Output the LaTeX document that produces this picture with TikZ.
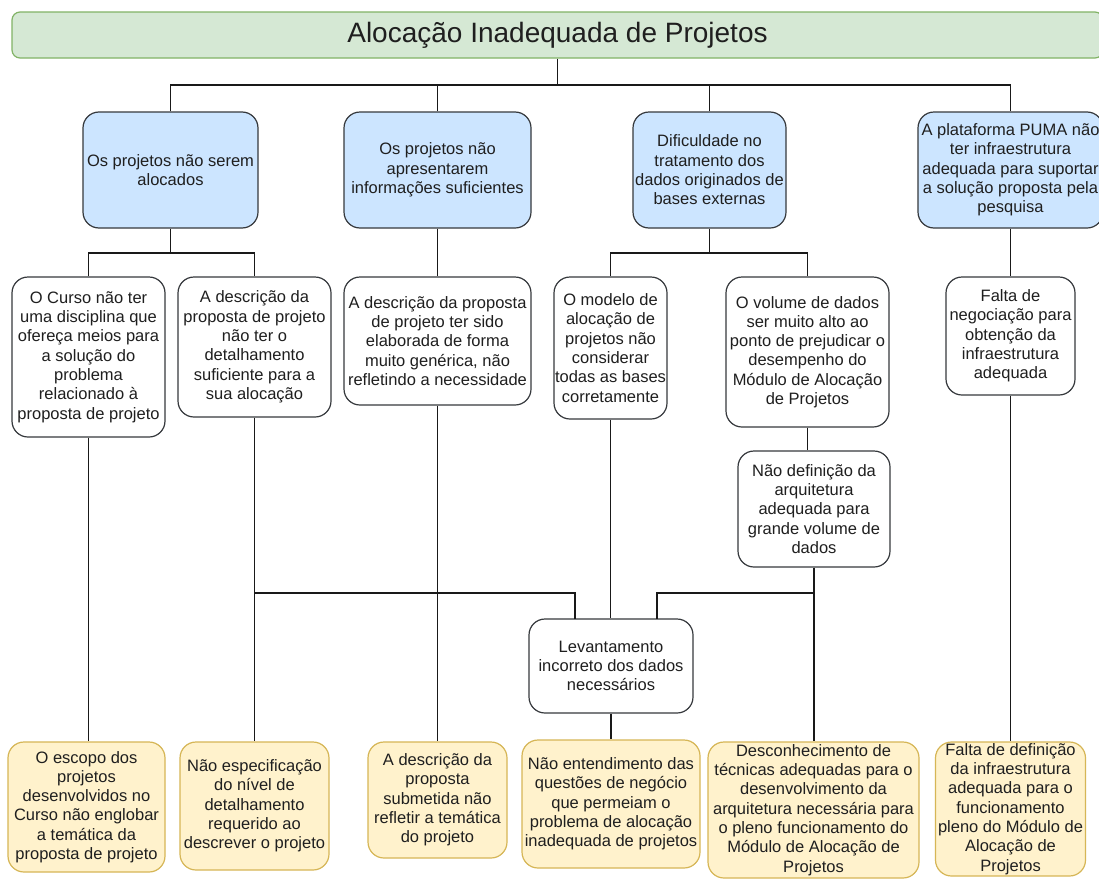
\documentclass[tikz,border=0pt]{standalone}
\usepackage{fontspec}
\setmainfont{Liberation Sans}
\definecolor{titlefill}{HTML}{D5E8D4}
\definecolor{titledraw}{HTML}{82B366}
\definecolor{bluefill}{HTML}{CCE5FF}
\definecolor{yelfill}{HTML}{FFF2CC}
\definecolor{yeldraw}{HTML}{D6B656}
\definecolor{boxdraw}{HTML}{36393D}
\definecolor{txt}{HTML}{1F1F1F}
\begin{document}
\begin{tikzpicture}[x=1pt,y=-1pt,
  base/.style={rounded corners=16pt, line width=1.2pt, align=center, inner sep=0pt,
    text=txt, font=\fontsize{16.5}{19.3}\selectfont},
  titlebox/.style={base, rounded corners=8pt, fill=titlefill, draw=titledraw,
    font=\fontsize{28}{32}\selectfont},
  causebox/.style={base, fill=bluefill, draw=boxdraw},
  whitebox/.style={base, fill=white, draw=boxdraw},
  rootbox/.style={base, fill=yelfill, draw=yeldraw},
  link/.style={line width=1.2pt, draw=black!90}]
\useasboundingbox (0,0) rectangle (1099,878);
\fill[white] (0,0) rectangle (1099,878);

% title
\node[titlebox, minimum width=1091pt, minimum height=46pt] (T) at (557.5,35) {Alocação Inadequada de Projetos};

% level 1
\node[causebox, minimum width=175pt, minimum height=116pt] (B1) at (170.5,170) {Os projetos não serem\\alocados};
\node[causebox, minimum width=187pt, minimum height=116pt] (B2) at (437.5,170) {Os projetos não\\apresentarem\\informações suficientes};
\node[causebox, minimum width=153pt, minimum height=116pt] (B3) at (709.5,170) {Dificuldade no\\tratamento dos\\dados originados de\\bases externas};
\node[causebox, minimum width=185pt, minimum height=116pt] (B4) at (1010.5,170) {A plataforma PUMA não\\ter infraestrutura\\adequada para suportar\\a solução proposta pela\\pesquisa};

% level 2
\node[whitebox, minimum width=153pt, minimum height=160pt] (W1) at (88.5,357) {O Curso não ter\\uma disciplina que\\ofereça meios para\\a solução do\\problema\\relacionado à\\proposta de projeto};
\node[whitebox, minimum width=153pt, minimum height=140pt] (W2) at (254.5,347) {A descrição da\\proposta de projeto\\não ter o\\detalhamento\\suficiente para a\\sua alocação};
\node[whitebox, minimum width=187pt, minimum height=128pt] (W3) at (437.5,341) {A descrição da proposta\\de projeto ter sido\\elaborada de forma\\muito genérica, não\\refletindo a necessidade};
\node[whitebox, minimum width=113pt, minimum height=142pt] (W4) at (610.5,348) {O modelo de\\alocação de\\projetos não\\considerar\\todas as bases\\corretamente};
\node[whitebox, minimum width=163pt, minimum height=150pt] (W5) at (807.5,352) {O volume de dados\\ser muito alto ao\\ponto de prejudicar o\\desempenho do\\Módulo de Alocação\\de Projetos};
\node[whitebox, minimum width=129pt, minimum height=118pt] (W6) at (1010.5,336) {Falta de\\negociação para\\obtenção da\\infraestrutura\\adequada};

% level 3
\node[whitebox, minimum width=152pt, minimum height=116pt] (W7) at (814,509) {Não definição da\\arquitetura\\adequada para\\grande volume de\\dados};
\node[whitebox, minimum width=164pt, minimum height=94pt] (L) at (611,666) {Levantamento\\incorreto dos dados\\necessários};

% root causes
\node[rootbox, minimum width=157pt, minimum height=130pt] (Y1) at (86.5,807) {O escopo dos\\projetos\\desenvolvidos no\\Curso não englobar\\a temática da\\proposta de projeto};
\node[rootbox, minimum width=149pt, minimum height=128pt] (Y2) at (254.5,806) {Não especificação\\do nível de\\detalhamento\\requerido ao\\descrever o projeto};
\node[rootbox, minimum width=139pt, minimum height=116pt] (Y3) at (437.5,800) {A descrição da\\proposta\\submetida não\\refletir a temática\\do projeto};
\node[rootbox, minimum width=178pt, minimum height=128pt] (Y4) at (611,804) {Não entendimento das\\questões de negócio\\que permeiam o\\problema de alocação\\inadequada de projetos};
\node[rootbox, minimum width=211pt, minimum height=136pt] (Y5) at (813.5,810) {Desconhecimento de\\técnicas adequadas para o\\desenvolvimento da\\arquitetura necessária para\\o pleno funcionamento do\\Módulo de Alocação de\\Projetos};
\node[rootbox, minimum width=150pt, minimum height=134pt] (Y6) at (1010.5,809) {Falta de definição\\da infraestrutura\\adequada para o\\funcionamento\\pleno do Módulo de\\Alocação de\\Projetos};

% junction rows
\coordinate (r1) at (0,85);
\coordinate (r2) at (0,253);
\coordinate (r3) at (0,593);
\coordinate (lA) at (575,619);
\coordinate (lB) at (657,619);

% connectors
\draw[link] (T.south) -- (T.south |- r1);
\draw[link] (B1.north) -- (B1.north |- r1) -- (B4.north |- r1) -- (B4.north);
\draw[link] (B2.north) -- (B2.north |- r1);
\draw[link] (B3.north) -- (B3.north |- r1);

\draw[link] (B1.south) -- (B1.south |- r2);
\draw[link] (W1.north) -- (W1.north |- r2) -- (W2.north |- r2) -- (W2.north);
\draw[link] (B2.south) -- (W3.north);
\draw[link] (B3.south) -- (B3.south |- r2);
\draw[link] (W4.north) -- (W4.north |- r2) -- (W5.north |- r2) -- (W5.north);
\draw[link] (B4.south) -- (W6.north);

\draw[link] (W5.south) -- (W5.south |- W7.north);
\draw[link] (W1.south) -- (W1.south |- Y1.north);
\draw[link] (W2.south) -- (W2.south |- Y2.north);
\draw[link] (W3.south) -- (W3.south |- Y3.north);
\draw[link] (W4.south) -- (W4.south |- L.north);
\draw[link] (W6.south) -- (W6.south |- Y6.north);
\draw[link] (W7.south) -- (W7.south |- Y5.north);
\draw[link] (L.south) -- (L.south |- Y4.north);

\draw[link] (W2.south |- r3) -- (lA |- r3) -- (lA);
\draw[link] (W7.south |- r3) -- (lB |- r3) -- (lB);
\end{tikzpicture}
\end{document}
